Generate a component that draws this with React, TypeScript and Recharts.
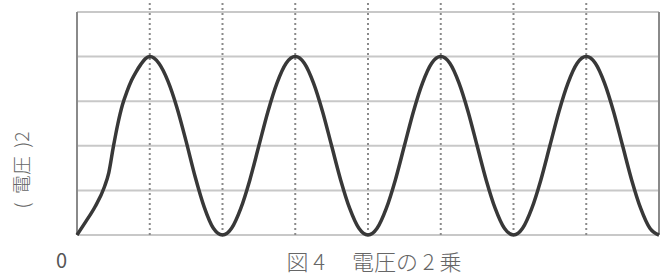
import React from 'react';
import { LineChart, Line, XAxis, YAxis, ReferenceLine } from 'recharts';

// x in half-periods (0..8), y in grid units (0..5)
const xs = [
  0, 0.125, 0.25, 0.375, 0.4375, 0.5, 0.5625, 0.625, 0.6875, 0.75, 0.8125, 0.875, 0.9375, 1,
  1.125, 1.25, 1.375, 1.5, 1.625, 1.75, 1.875, 2,
  2.125, 2.25, 2.375, 2.5, 2.625, 2.75, 2.875, 3,
  3.125, 3.25, 3.375, 3.5, 3.625, 3.75, 3.875, 4,
  4.125, 4.25, 4.375, 4.5, 4.625, 4.75, 4.875, 5,
  5.125, 5.25, 5.375, 5.5, 5.625, 5.75, 5.875, 6,
  6.125, 6.25, 6.375, 6.5, 6.625, 6.75, 6.875, 7,
  7.125, 7.25, 7.375, 7.5, 7.625, 7.75, 7.875, 8,
];
const voltageSq = [
  0, 0.31, 0.64, 1.07, 1.4, 1.98, 2.5, 2.92, 3.22, 3.47, 3.66, 3.82, 3.95, 4,
  3.85, 3.45, 2.85, 2.1, 1.3, 0.62, 0.15, 0,
  0.15, 0.59, 1.23, 2, 2.77, 3.41, 3.85, 4,
  3.85, 3.41, 2.77, 2, 1.23, 0.59, 0.15, 0,
  0.15, 0.59, 1.23, 2, 2.77, 3.41, 3.85, 4,
  3.85, 3.41, 2.77, 2, 1.23, 0.59, 0.15, 0,
  0.15, 0.59, 1.23, 2, 2.77, 3.41, 3.85, 4,
  3.85, 3.41, 2.77, 2, 1.23, 0.59, 0.15, 0,
];
const hLines = [0, 1, 2, 3, 4, 5];
const vDotted = [1, 2, 3, 4, 5, 6, 7];

const data = xs.map((x, i) => ({ x, v: voltageSq[i] }));

const font = '"Noto Sans CJK JP", "Noto Sans", sans-serif';

export default function App() {
  return (
    <div style={{ position: 'absolute', left: 0, top: 0, width: 668, height: 276, background: '#fff' }}>
      <LineChart width={668} height={276} data={data} margin={{ top: 12, right: 9, left: 77, bottom: 41 }}>
        <XAxis type="number" dataKey="x" domain={[0, 8]} hide />
        <YAxis type="number" domain={[0, 5]} hide />
        {hLines.map((y) => (
          <ReferenceLine key={'h' + y} y={y} stroke="#c8c8c8" strokeWidth={2} />
        ))}
        {vDotted.map((x) => (
          <ReferenceLine
            key={'v' + x}
            segment={[{ x, y: 0 }, { x, y: 5.28 }]}
            ifOverflow="visible"
            stroke="#8a8a8a"
            strokeWidth={2}
            strokeDasharray="2 3"
          />
        ))}
        <ReferenceLine x={0} stroke="#8a8a8a" strokeWidth={2} />
        <ReferenceLine x={8} stroke="#8a8a8a" strokeWidth={2} />
        <Line
          type="monotone"
          dataKey="v"
          stroke="#383838"
          strokeWidth={3.5}
          dot={false}
          isAnimationActive={false}
        />
      </LineChart>
      <div style={{ position: 'absolute', left: 56, top: 245, fontFamily: font, fontSize: 20, color: '#555' }}>0</div>
      <div
        style={{
          position: 'absolute', left: 0, width: 668, top: 244, textAlign: 'center', paddingLeft: 80,
          boxSizing: 'border-box', fontFamily: font, fontSize: 22, color: '#666', fontWeight: 300,
          whiteSpace: 'pre',
        }}
      >
        {'図 4　 電圧の 2 乗'}
      </div>
      <div
        style={{
          position: 'absolute', left: 20, top: 170, transform: 'translate(-50%, -50%) rotate(-90deg)',
          whiteSpace: 'pre', fontFamily: font, fontSize: 19, color: '#666', fontWeight: 300,
        }}
      >
        {'(  電圧  )2'}
      </div>
    </div>
  );
}
